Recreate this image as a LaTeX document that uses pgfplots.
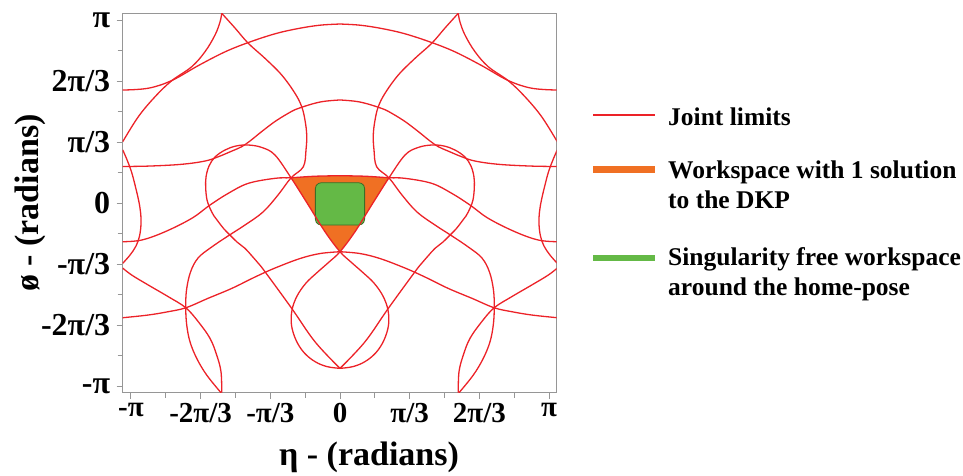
\documentclass[border=0pt]{standalone}
\usepackage{fontspec}
\setmainfont{Liberation Serif}
\usepackage{pgfplots}
\usepackage{pgfplotstable}
\pgfplotsset{compat=1.18}
\definecolor{jl}{RGB}{236,34,40}
\definecolor{ws}{RGB}{240,112,35}
\definecolor{sf}{RGB}{100,185,70}
\definecolor{sfb}{RGB}{60,110,40}
\definecolor{ax}{RGB}{150,150,150}

% left halves / left copies of the joint-limit curves (eta, phi) in radians
\pgfplotstableread{
x y
-3.265 1.945
-2.880 1.976
-2.528 2.108
-2.128 2.365
-1.728 2.600
-1.378 2.760
-0.977 2.910
-0.626 3.001
-0.300 3.058
0 3.078
}\cTop
\pgfplotstableread{
x y
-1.777 3.262
-1.803 3.112
-1.878 2.889
-2.028 2.603
-2.228 2.345
-2.528 2.105
-2.779 1.830
-3.030 1.487
-3.265 1.057
}\cOne
\pgfplotstableread{
x y
-1.777 3.262
-1.578 3.010
-1.378 2.747
-1.127 2.489
-0.876 2.203
-0.676 1.888
-0.575 1.658
-0.526 1.427
-0.500 1.173
-0.511 0.915
-0.551 0.628
-0.736 0.437
-0.931 0.143
-1.157 -0.149
-1.427 -0.372
-1.683 -0.561
-1.938 -0.758
-2.133 -0.939
-2.246 -1.179
-2.306 -1.488
-2.318 -1.792
-2.303 -2.089
-2.254 -2.376
-2.153 -2.661
-2.003 -2.948
-1.788 -3.251
}\cThree
\pgfplotstableread{
x y
-3.265 -1.111
-3.130 -1.231
-2.880 -1.403
-2.580 -1.603
-2.318 -1.792
-2.129 -2.033
-1.953 -2.318
-1.853 -2.604
-1.788 -2.891
-1.777 -3.251
}\cLow
\pgfplotstableread{
x y
-3.265 0.918
-3.200 0.747
-3.133 0.541
-3.080 0.315
-3.027 0.057
-2.997 -0.149
-2.990 -0.355
-3.012 -0.561
-3.065 -0.733
-3.155 -0.888
-3.265 -1.030
}\cBulge
\pgfplotstableread{
x y
-3.265 0.632
-2.855 0.640
-2.378 0.670
-2.028 0.726
-1.828 0.800
-1.623 0.898
-1.477 0.972
-1.352 1.070
-1.232 1.181
-1.127 1.276
-0.977 1.404
-0.796 1.533
-0.631 1.627
-0.300 1.739
0 1.774
}\cMid
\pgfplotstableread{
x y
-3.265 -0.659
-2.979 -0.630
-2.629 -0.488
-2.228 -0.258
-1.953 -0.029
-1.678 0.172
-1.378 0.343
-0.977 0.429
-0.736 0.439
-0.376 0.465
0 0.474
}\cTri
\pgfplotstableread{
x y
-3.265 -1.964
-2.885 -1.918
-2.584 -1.861
-2.314 -1.792
-1.983 -1.631
-1.623 -1.459
-1.277 -1.265
-0.977 -1.111
-0.601 -0.948
-0.300 -0.862
0 -0.831
}\cArc
\pgfplotstableread{
x y
0 -2.833
-0.376 -2.376
-0.726 -1.803
-1.127 -1.174
-1.227 -1.030
-1.322 -0.905
-1.427 -0.773
-1.547 -0.665
-1.653 -0.545
-1.743 -0.441
-1.828 -0.316
-1.893 -0.218
-1.953 -0.086
-1.998 0.057
-2.018 0.263
-2.013 0.452
-1.968 0.640
-1.878 0.795
-1.728 0.915
-1.562 0.984
-1.378 1.001
-1.172 0.958
-0.977 0.829
-0.736 0.439
-0.476 -0.029
-0.225 -0.488
0 -0.831
0.165 -1.008
0.345 -1.189
0.511 -1.369
0.646 -1.592
0.721 -1.832
0.729 -2.090
0.661 -2.348
0.541 -2.562
0.376 -2.717
0.195 -2.803
0 -2.833
}\cLoop

\begin{document}
\begin{tikzpicture}[x=1pt,y=1pt]
\useasboundingbox (0,0) rectangle (963,475);
\begin{axis}[
  at={(122.7pt,82.3pt)}, anchor=south west,
  scale only axis, width=434pt, height=379.4pt,
  xmin=-3.265, xmax=3.256, ymin=-3.251, ymax=3.262,
  axis line style={draw=ax, line width=1pt},
  xtick={-3.14159,-2.0944,-1.0472,0,1.0472,2.0944,3.14159},
  xticklabels={-π,-2π/3,-π/3,0,π/3,2π/3,π},
  minor xtick={-2.618,-1.5708,-0.5236,0.5236,1.5708,2.618},
  ytick={-3.14159,-2.0944,-1.0472,0,1.0472,2.0944,3.14159},
  yticklabels={-π,-2π/3,-π/3,0,π/3,2π/3,π},
  minor ytick={-2.618,-1.5708,-0.5236,0.5236,1.5708,2.618},
  tick align=outside, tick pos=left,
  major tick length=6pt, minor tick length=5pt,
  every tick/.style={ax, line width=0.9pt},
  xticklabel style={font=\fontsize{29}{29}\selectfont\bfseries, yshift=-1pt},
  yticklabel style={font=\fontsize{32}{32}\selectfont\bfseries, xshift=-3pt},
  xlabel={η - (radians)}, ylabel={ø - (radians)},
  xlabel style={at={(axis description cs:0.5675,-0.17)}, anchor=center},
  ylabel style={at={(axis description cs:-0.2136,0.5)}, anchor=center},
  label style={font=\fontsize{34}{34}\selectfont\bfseries},
  clip=true,
  jlim/.style={jl, line width=1.3pt, smooth, tension=0.6},
]
% workspace with one DKP solution
\addplot[fill=ws, draw=none] coordinates {(-0.736,0.439) (-0.376,0.465) (0,0.474) (0.376,0.465) (0.736,0.439) (0.476,-0.029) (0.225,-0.488) (0,-0.831) (-0.225,-0.488) (-0.476,-0.029)} --cycle;
% singularity-free workspace
\addplot[fill=sf, draw=sfb, line width=0.8pt] coordinates {
 (0.37,0.254) (0.358,0.304) (0.325,0.341) (0.28,0.354)
 (-0.28,0.354) (-0.325,0.341) (-0.358,0.304) (-0.37,0.254)
 (-0.37,-0.273) (-0.358,-0.323) (-0.325,-0.360) (-0.28,-0.373)
 (0.28,-0.373) (0.325,-0.360) (0.358,-0.323) (0.37,-0.273)} --cycle;
% joint limits
\addplot[jlim] table[x=x,y=y] {\cTop};
\addplot[jlim] table[x expr=-\thisrow{x},y=y] {\cTop};
\addplot[jlim] table[x=x,y=y] {\cOne};
\addplot[jlim] table[x expr=-\thisrow{x},y=y] {\cOne};
\addplot[jlim] table[x=x,y=y] {\cThree};
\addplot[jlim] table[x expr=-\thisrow{x},y=y] {\cThree};
\addplot[jlim] table[x=x,y=y] {\cLow};
\addplot[jlim] table[x expr=-\thisrow{x},y=y] {\cLow};
\addplot[jlim] table[x=x,y=y] {\cBulge};
\addplot[jlim] table[x expr=-\thisrow{x},y=y] {\cBulge};
\addplot[jlim] table[x=x,y=y] {\cMid};
\addplot[jlim] table[x expr=-\thisrow{x},y=y] {\cMid};
\addplot[jlim] table[x=x,y=y] {\cTri};
\addplot[jlim] table[x expr=-\thisrow{x},y=y] {\cTri};
\addplot[jlim] table[x=x,y=y] {\cArc};
\addplot[jlim] table[x expr=-\thisrow{x},y=y] {\cArc};
\addplot[jlim] table[x=x,y=y] {\cLoop};
\addplot[jlim] table[x expr=-\thisrow{x},y=y] {\cLoop};
\end{axis}
% legend
\draw[jl, line width=2.5pt] (593,360) -- (655,360);
\node[anchor=base west, inner sep=0pt, font=\fontsize{25.5}{25.5}\selectfont\bfseries] at (668,350) {Joint limits};
\draw[ws, line width=7pt] (593,305.7) -- (655,305.7);
\node[anchor=base west, inner sep=0pt, font=\fontsize{25.5}{25.5}\selectfont\bfseries] at (668,297) {Workspace with 1 solution};
\node[anchor=base west, inner sep=0pt, font=\fontsize{25.5}{25.5}\selectfont\bfseries] at (668,266.7) {to the DKP};
\draw[sf, line width=6pt] (593,216.7) -- (655,216.7);
\node[anchor=base west, inner sep=0pt, font=\fontsize{25.5}{25.5}\selectfont\bfseries] at (668,210) {Singularity free workspace};
\node[anchor=base west, inner sep=0pt, font=\fontsize{25.5}{25.5}\selectfont\bfseries] at (668,180) {around the home-pose};
\end{tikzpicture}
\end{document}
